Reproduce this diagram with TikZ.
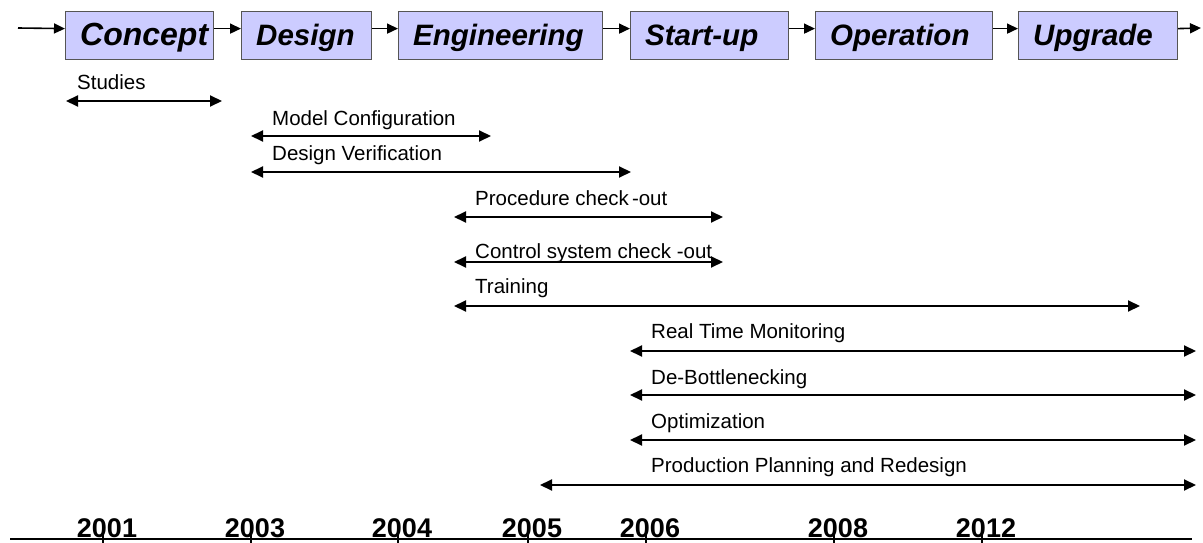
\documentclass[tikz,border=0pt]{standalone}
\usepackage{fontspec}
\setmainfont{Liberation Sans}
\usetikzlibrary{arrows.meta}
\definecolor{boxfill}{HTML}{CCCCFF}
\definecolor{boxline}{HTML}{555555}
\tikzset{
  phase/.style={draw=boxline, line width=1.2pt, fill=boxfill, anchor=north west,
    minimum height=48pt, inner sep=0pt, text depth=0pt, align=left},
  flow/.style={line width=1.6pt, -{Triangle[length=11pt,width=10pt]}},
  span/.style={line width=2pt, {Triangle[length=12pt,width=11pt]}-{Triangle[length=12pt,width=11pt]}},
  lbl/.style={anchor=base west, inner sep=0pt, font=\fontsize{20.5}{24}\selectfont},
  year/.style={anchor=base, inner sep=0pt, font=\fontsize{27}{28}\selectfont\bfseries},
  axis/.style={line width=1.7pt},
}
\begin{document}
\begin{tikzpicture}[x=1pt,y=-1pt]
\useasboundingbox (0,0) rectangle (1203,543);
% phase boxes
\newcommand{\phasebox}[5]{%
  \node[phase, minimum width=#3pt] (#1) at (#2,11) {};
  \node[anchor=base west, inner sep=0pt, font=\fontsize{#5}{32}\selectfont\bfseries\itshape] (#1t) at (#2+15,46) {#4};
}
\phasebox{concept}{65}{148}{Concept}{32}
\phasebox{design}{241}{130}{Design}{29.5}
\phasebox{eng}{398}{204}{Engineering}{29.5}
\phasebox{start}{630}{158}{Start-up}{29.5}
\phasebox{oper}{815}{177}{Operation}{29.5}
\phasebox{upg}{1018}{159}{Upgrade}{29.5}
\coordinate (in) at (18,28);
\coordinate (out) at (1201,28);
\draw[flow] (in) -- ([yshift=7pt]concept.west);
\draw[flow] ([yshift=7pt]concept.east) -- ([yshift=7pt]design.west);
\draw[flow] ([yshift=7pt]design.east) -- ([yshift=7pt]eng.west);
\draw[flow] ([yshift=7pt]eng.east) -- ([yshift=7pt]start.west);
\draw[flow] ([yshift=7pt]start.east) -- ([yshift=7pt]oper.west);
\draw[flow] ([yshift=7pt]oper.east) -- ([yshift=7pt]upg.west);
\draw[flow] ([yshift=7pt]upg.east) -- (out);
% activities
\node[lbl] (l1) at (77,89) {Studies};
\coordinate (a1) at (66,101); \coordinate (b1) at (222,101);
\draw[span] (a1) -- (b1);
\node[lbl] (l2) at (272,125) {Model Configuration};
\coordinate (a2) at (251,136); \coordinate (b2) at (491,136);
\draw[span] (a2) -- (b2);
\node[lbl] (l3) at (272,160) {Design Verification};
\coordinate (a3) at (251,172); \coordinate (b3) at (631,172);
\draw[span] (a3) -- (b3);
\node[lbl] (l4) at (475,205) {Procedure check\kern3pt-out};
\coordinate (a4) at (454,217); \coordinate (b4) at (723,217);
\draw[span] (a4) -- (b4);
\node[lbl] (l5) at (475,258) {Control system check -out};
\coordinate (a5) at (454,262); \coordinate (b5) at (723,262);
\draw[span] (a5) -- (b5);
\node[lbl] (l6) at (475,293) {Training};
\coordinate (a6) at (454,306); \coordinate (b6) at (1140,306);
\draw[span] (a6) -- (b6);
\node[lbl] (l7) at (651,338) {Real Time Monitoring};
\coordinate (a7) at (630,351); \coordinate (b7) at (1196,351);
\draw[span] (a7) -- (b7);
\node[lbl] (l8) at (651,384) {De-Bottlenecking};
\coordinate (a8) at (630,395); \coordinate (b8) at (1196,395);
\draw[span] (a8) -- (b8);
\node[lbl] (l9) at (651,428) {Optimization};
\coordinate (a9) at (630,440); \coordinate (b9) at (1196,440);
\draw[span] (a9) -- (b9);
\node[lbl] (l10) at (651,472) {Production Planning and Redesign};
\coordinate (a10) at (540,485); \coordinate (b10) at (1196,485);
\draw[span] (a10) -- (b10);
% timeline
\coordinate (t0) at (10,539); \coordinate (t1) at (1192,539);
\draw[axis] (t0) -- (t1);
\foreach \x/\yr in {103/2001,251/2003,398/2004,528/2005,646/2006,834/2008,982/2012}{
  \node[year] (y\yr) at (\x+4,537) {\yr};
  \coordinate (tk\yr) at (\x,528);
  \draw[axis] (tk\yr) -- (\x,543);
}
\end{tikzpicture}
\end{document}
